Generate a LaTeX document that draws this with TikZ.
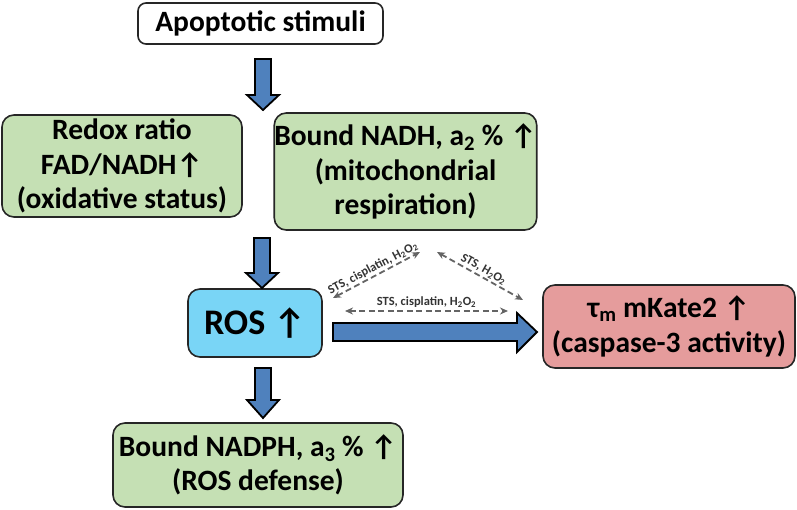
\documentclass[tikz,border=0pt]{standalone}
\usepackage{fontspec}
\setmainfont{Carlito}
\usetikzlibrary{arrows.meta,calc}
\definecolor{gfill}{HTML}{C5E0B4}
\definecolor{bfill}{HTML}{79D5F6}
\definecolor{rfill}{HTML}{E59C9C}
\definecolor{afill}{HTML}{4F81BD}
\definecolor{dgray}{HTML}{646464}
\tikzset{
  box/.style={draw=black!85, line width=1.6pt, rounded corners=12pt, align=center,
    font=\bfseries\fontsize{29.5}{34.5}\selectfont, inner sep=0pt},
  blk/.style={draw=black, line width=1.8pt, fill=afill, line join=miter},
  dsh/.style={draw=dgray, line width=1.8pt, dash pattern=on 6pt off 3.5pt,
    {Stealth[length=8pt,width=7pt]}-{Stealth[length=8pt,width=7pt]}},
  lbl/.style={font=\bfseries\fontsize{12.5}{14}\selectfont, text=black!80, inner sep=0.5pt}
}
\newcommand\vblk[4]{\draw[blk] (#1-8,#2) -- (#1+8,#2) -- (#1+8,#3) -- (#1+16,#3) -- (#1,#4) -- (#1-16,#3) -- (#1-8,#3) -- cycle;}
\begin{document}
\begin{tikzpicture}[x=1pt,y=-1pt]
\useasboundingbox (0,0) rectangle (797,509);
% boxes
\node[box, fill=white, rounded corners=8pt, minimum width=245pt, minimum height=41pt] (apo) at (260.5,23.5) {Apoptotic stimuli};
\node[box, fill=gfill, minimum width=240pt, minimum height=102pt] (redox) at (122,166) {Redox ratio\\FAD/NADH↑\\(oxidative status)};
\node[box, fill=gfill, minimum width=245pt, minimum height=117pt] (nadh) at (405.5,171.5) {Bound NADH, a\textsubscript{2} \% ↑\\(mitochondrial\\respiration)};
\node[box, fill=bfill, font=\bfseries\fontsize{36}{40}\selectfont, minimum width=134pt, minimum height=68pt] (ros) at (255,323) {ROS ↑};
\node[box, fill=rfill, minimum width=252pt, minimum height=83pt] (kate) at (669,326.5) {τ\textsubscript{m} mKate2 ↑\\(caspase-3 activity)};
\node[box, fill=gfill, minimum width=290pt, minimum height=84pt] (nadph) at (258,465) {Bound NADPH, a\textsubscript{3} \% ↑\\(ROS defense)};
% block arrows
\vblk{263}{59}{95}{110}
\vblk{262}{238}{273}{288}
\vblk{263}{368}{400}{418}
\draw[blk] (333,323) -- (517,323) -- (517,313) -- (537,332) -- (517,352) -- (517,341) -- (333,341) -- cycle;
% dashed arrows
\coordinate (l1) at (333,298);
\coordinate (l2) at (420,252);
\coordinate (r1) at (437,252);
\coordinate (r2) at (523,300);
\coordinate (h1) at (345,311);
\coordinate (h2) at (508,311);
\draw[dsh] (l1) -- node[lbl, sloped, above=1pt] {STS, cisplatin, H\textsubscript{2}O\textsubscript{2}} (l2);
\draw[dsh] (r1) -- node[lbl, sloped, above=1pt] {STS, H\textsubscript{2}O\textsubscript{2}} (r2);
\draw[dsh] (h1) -- node[lbl, above=2pt] {STS, cisplatin, H\textsubscript{2}O\textsubscript{2}} (h2);
\end{tikzpicture}
\end{document}
